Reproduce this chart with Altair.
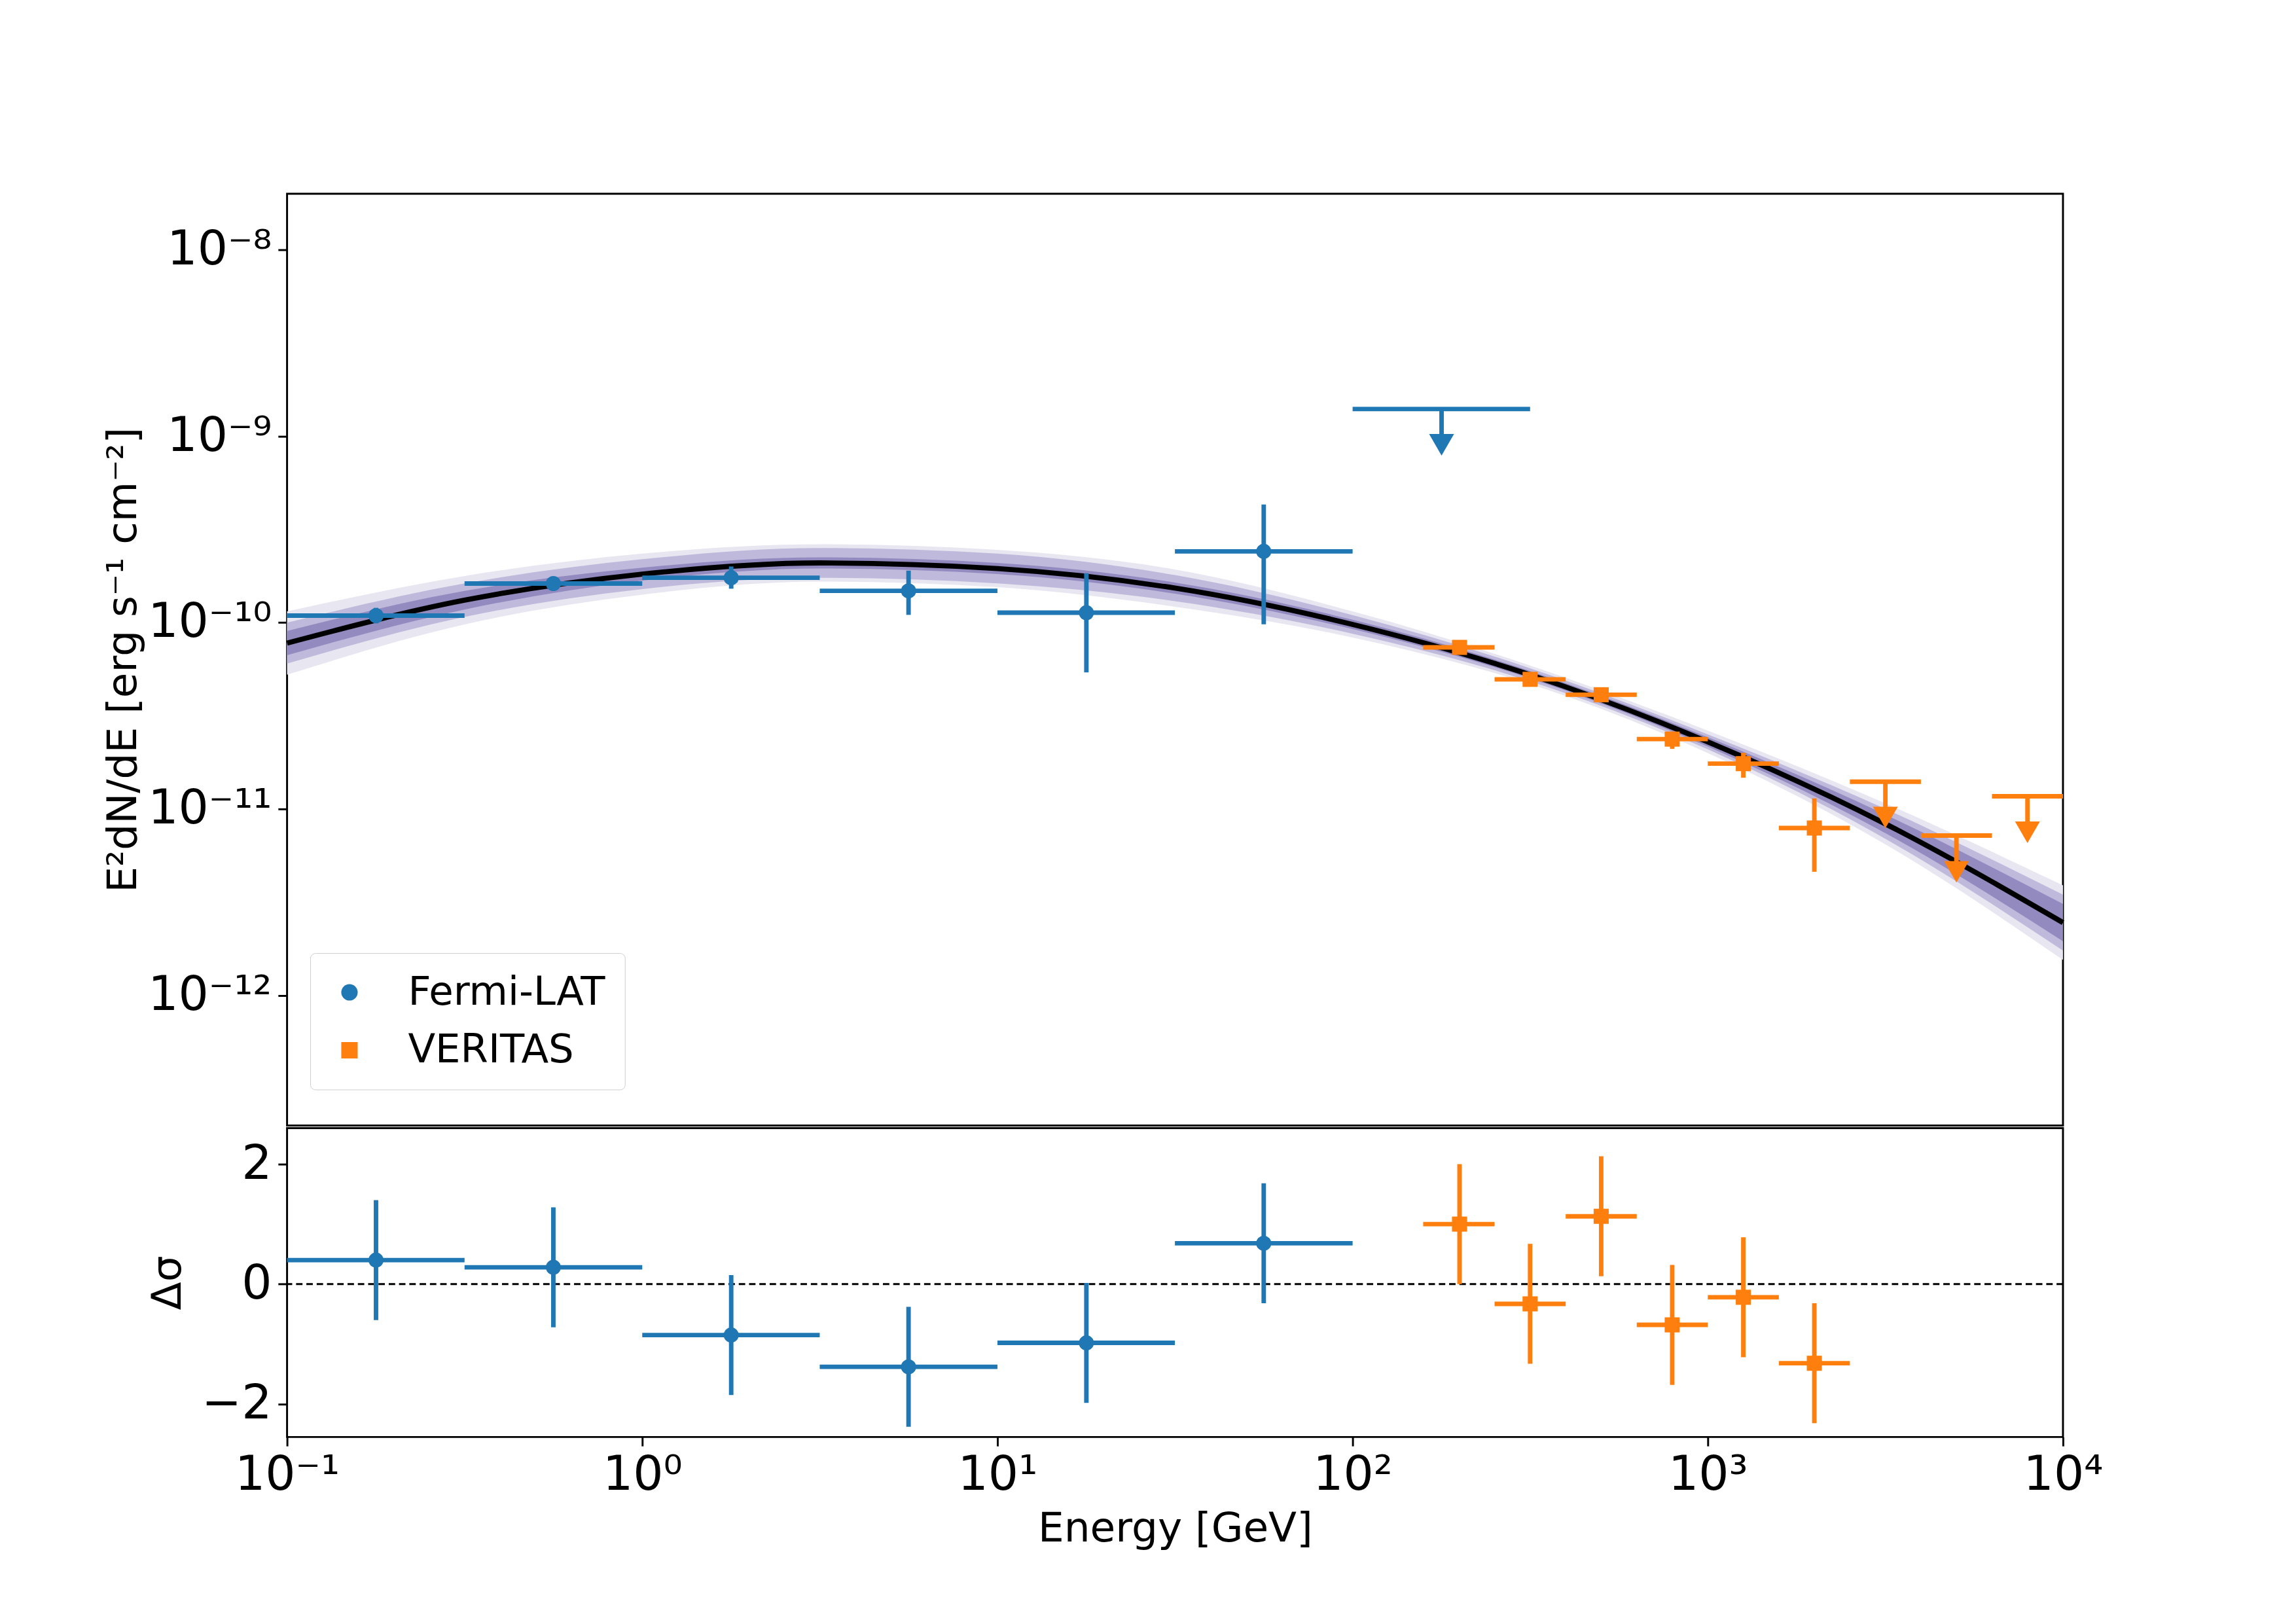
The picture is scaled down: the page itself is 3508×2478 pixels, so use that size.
import altair as alt
import pandas as pd

# Fermi-LAT flux points (erg s^-1 cm^-2)
fermi_e = [0.178, 0.562, 1.78, 5.62, 17.8, 56.2]
fermi_lo = [0.1, 0.316, 1.0, 3.16, 10.0, 31.6]
fermi_hi = [0.316, 1.0, 3.16, 10.0, 31.6, 100.0]
fermi_flux = [1.09e-10, 1.62e-10, 1.74e-10, 1.48e-10, 1.13e-10, 2.41e-10]
fermi_fmin = [0.99e-10, 1.52e-10, 1.52e-10, 1.10e-10, 5.4e-11, 9.8e-11]
fermi_fmax = [1.20e-10, 1.72e-10, 2.00e-10, 1.90e-10, 1.84e-10, 4.3e-10]
fermi_resid = [0.40, 0.28, -0.85, -1.38, -0.98, 0.68]

fermi_ul_e = [178.0]
fermi_ul_lo = [100.0]
fermi_ul_hi = [316.0]
fermi_ul = [1.4e-9]
fermi_ul_tip = [9.0e-10]

# VERITAS flux points
ver_e = [200.0, 316.0, 501.0, 794.0, 1259.0, 1995.0]
ver_lo = [158.0, 251.0, 398.0, 631.0, 1000.0, 1585.0]
ver_hi = [251.0, 398.0, 631.0, 1000.0, 1585.0, 2512.0]
ver_flux = [7.36e-11, 4.96e-11, 4.10e-11, 2.37e-11, 1.75e-11, 7.9e-12]
ver_fmin = [6.8e-11, 4.6e-11, 3.8e-11, 2.1e-11, 1.47e-11, 4.6e-12]
ver_fmax = [7.9e-11, 5.3e-11, 4.4e-11, 2.6e-11, 2.0e-11, 1.14e-11]
ver_resid = [1.00, -0.33, 1.13, -0.68, -0.22, -1.32]

ver_ul_e = [3162.0, 5012.0, 7943.0]
ver_ul_lo = [2512.0, 3981.0, 6310.0]
ver_ul_hi = [3981.0, 6310.0, 10000.0]
ver_ul = [1.40e-11, 7.2e-12, 1.17e-11]
ver_ul_tip = [9.0e-12, 4.6e-12, 7.5e-12]

# model curve read at half-decade steps (log10 of flux) and band half widths
model_e = [0.1, 0.316, 1.0, 3.16, 10.0, 31.6, 100.0, 316.0, 1000.0, 3162.0, 10000.0]
model_log = [-10.11, -9.88, -9.74, -9.68, -9.71, -9.815, -10.01, -10.28, -10.64, -11.08, -11.61]
band1 = [0.065, 0.05, 0.035, 0.03, 0.03, 0.03, 0.025, 0.02, 0.025, 0.05, 0.10]
band2 = [0.11, 0.09, 0.08, 0.08, 0.08, 0.07, 0.05, 0.035, 0.04, 0.08, 0.15]
band3 = [0.17, 0.13, 0.11, 0.10, 0.10, 0.10, 0.07, 0.05, 0.06, 0.11, 0.20]

BLUE = "#1f77b4"
ORANGE = "#ff7f0e"
FONT = "DejaVu Sans"
W = 2760

SUP = {"-13": "⁻¹³", "-12": "⁻¹²", "-11": "⁻¹¹", "-10": "⁻¹⁰", "-9": "⁻⁹", "-8": "⁻⁸",
       "-1": "⁻¹", "0": "⁰", "1": "¹", "2": "²", "3": "³", "4": "⁴"}


def pow_label(exps):
    expr = "''"
    for e in exps:
        expr = f"abs(log(datum.value)/LN10 - ({e})) < 0.01 ? '10{SUP[str(e)]}' : " + expr
    return expr


color_scale = alt.Scale(domain=["Fermi-LAT", "VERITAS"], range=[BLUE, ORANGE])
shape_scale = alt.Scale(domain=["Fermi-LAT", "VERITAS"], range=["circle", "square"])

xscale = alt.Scale(type="log", domain=[0.1, 10000], nice=False, padding=0)
yscale = alt.Scale(type="log", domain=[2e-13, 2e-8], nice=False, padding=0)

pts = pd.DataFrame({
    "e": fermi_e + ver_e, "lo": fermi_lo + ver_lo, "hi": fermi_hi + ver_hi,
    "f": fermi_flux + ver_flux, "fmin": fermi_fmin + ver_fmin, "fmax": fermi_fmax + ver_fmax,
    "r": fermi_resid + ver_resid,
    "inst": ["Fermi-LAT"] * len(fermi_e) + ["VERITAS"] * len(ver_e),
})
uls = pd.DataFrame({
    "e": fermi_ul_e + ver_ul_e, "lo": fermi_ul_lo + ver_ul_lo, "hi": fermi_ul_hi + ver_ul_hi,
    "f": fermi_ul + ver_ul, "tip": fermi_ul_tip + ver_ul_tip,
    "inst": ["Fermi-LAT"] * len(fermi_ul_e) + ["VERITAS"] * len(ver_ul_e),
})
model = pd.DataFrame({"e": model_e, "m": [10 ** v for v in model_log]})
for i, b in enumerate([band3, band2, band1]):
    model[f"lo{i}"] = [10 ** (v - w) for v, w in zip(model_log, b)]
    model[f"hi{i}"] = [10 ** (v + w) for v, w in zip(model_log, b)]

x_top = alt.X("e:Q", scale=xscale, axis=alt.Axis(labels=False, ticks=False, title=None, domain=False, grid=False))
y_ax = alt.Axis(values=[1e-12, 1e-11, 1e-10, 1e-9, 1e-8], labelExpr=pow_label([-12, -11, -10, -9, -8]),
                title="E²dN/dE [erg s⁻¹ cm⁻²]", grid=False, tickSize=14, tickWidth=3, labelLimit=0,
                labelFlush=False, labelFontSize=74, titleFontSize=64, labelPadding=10, titlePadding=22,
                domain=False)
y_main = alt.Y("m:Q", scale=yscale, axis=y_ax)

base_m = alt.Chart(model)
bands = [
    base_m.mark_area(color=c, interpolate="monotone").encode(x=x_top, y=alt.Y(f"lo{i}:Q", scale=yscale, axis=y_ax), y2=f"hi{i}:Q")
    for i, c in enumerate(["#e8e6f1", "#bfbadb", "#938ac0"])
]
curve = base_m.mark_line(color="black", strokeWidth=8, interpolate="monotone").encode(x=x_top, y=y_main)

col = alt.Color("inst:N", scale=color_scale, legend=alt.Legend(title=None))
shp = alt.Shape("inst:N", scale=shape_scale, legend=alt.Legend(title=None))
bp = alt.Chart(pts)
hbar = bp.mark_rule(strokeWidth=7).encode(x=alt.X("lo:Q", scale=xscale), x2="hi:Q", y=alt.Y("f:Q", scale=yscale), color=col)
vbar = bp.mark_rule(strokeWidth=7).encode(x=alt.X("e:Q", scale=xscale), y=alt.Y("fmin:Q", scale=yscale), y2="fmax:Q", color=col)
marks = bp.mark_point(filled=True, size=550, opacity=1).encode(
    x=alt.X("e:Q", scale=xscale), y=alt.Y("f:Q", scale=yscale), color=col, shape=shp)
bu = alt.Chart(uls)
ul_h = bu.mark_rule(strokeWidth=7).encode(x=alt.X("lo:Q", scale=xscale), x2="hi:Q", y=alt.Y("f:Q", scale=yscale), color=col)
ul_v = bu.mark_rule(strokeWidth=7).encode(x=alt.X("e:Q", scale=xscale), y=alt.Y("f:Q", scale=yscale), y2="tip:Q", color=col)
ul_t = bu.mark_point(shape="triangle-down", filled=True, size=1500, opacity=1).encode(
    x=alt.X("e:Q", scale=xscale), y=alt.Y("tip:Q", scale=yscale), color=col)

top = alt.layer(*bands, curve, hbar, vbar, ul_h, ul_v, ul_t, marks).properties(width=W, height=1448)

# residual panel
x_bot = alt.X("lo:Q", scale=xscale, title="Energy [GeV]",
              axis=alt.Axis(values=[0.1, 1, 10, 100, 1000, 10000], labelExpr=pow_label([-1, 0, 1, 2, 3, 4]),
                            grid=False, tickSize=14, tickWidth=3, labelFontSize=74, titleFontSize=64, labelLimit=0,
                            labelFlush=False, labelPadding=10, titlePadding=14, domain=False))
ry = alt.Scale(domain=[-2.55, 2.6], nice=False)
ry_ax = alt.Axis(values=[-2, 0, 2], labelExpr="datum.value < 0 ? '−' + abs(datum.value) : datum.value",
                 title="Δσ", grid=False, tickSize=14, tickWidth=3, labelFontSize=74, titleFontSize=64,
                 labelFlush=False, labelPadding=10, titlePadding=20, domain=False)
zero = alt.Chart(pd.DataFrame({"z": [0]})).mark_rule(color="black", strokeWidth=3, strokeDash=[10, 6]).encode(
    y=alt.Y("z:Q", scale=ry, axis=ry_ax))
rh = bp.mark_rule(strokeWidth=7).encode(x=x_bot, x2="hi:Q", y=alt.Y("r:Q", scale=ry, axis=ry_ax), color=col)
rv = bp.transform_calculate(rlo="datum.r - 1", rhi="datum.r + 1").mark_rule(strokeWidth=7).encode(
    x=alt.X("e:Q", scale=xscale), y=alt.Y("rlo:Q", scale=ry), y2="rhi:Q", color=col)
rm = bp.mark_point(filled=True, size=550, opacity=1).encode(
    x=alt.X("e:Q", scale=xscale), y=alt.Y("r:Q", scale=ry), color=col, shape=shp)
bottom = alt.layer(zero, rh, rv, rm).properties(width=W, height=480)

chart = alt.vconcat(top, bottom, spacing=0).resolve_scale(color="shared", shape="shared").configure(
    font=FONT, padding={"left": 150, "top": 270, "right": 290, "bottom": 60}
).configure_view(stroke="black", strokeWidth=3).configure_axis(
    labelColor="black", titleColor="black", tickColor="black", labelFont=FONT, titleFont=FONT, titleFontWeight="normal"
).configure_legend(
    orient="none", legendX=36, legendY=1180, labelFontSize=62, symbolSize=650, symbolStrokeWidth=0,
    strokeColor="#cccccc", fillColor="white", padding=30, cornerRadius=8, rowPadding=28, labelOffset=60,
    labelLimit=0,
)

chart.save("out.html", embed_options={"renderer": "svg", "actions": False})
